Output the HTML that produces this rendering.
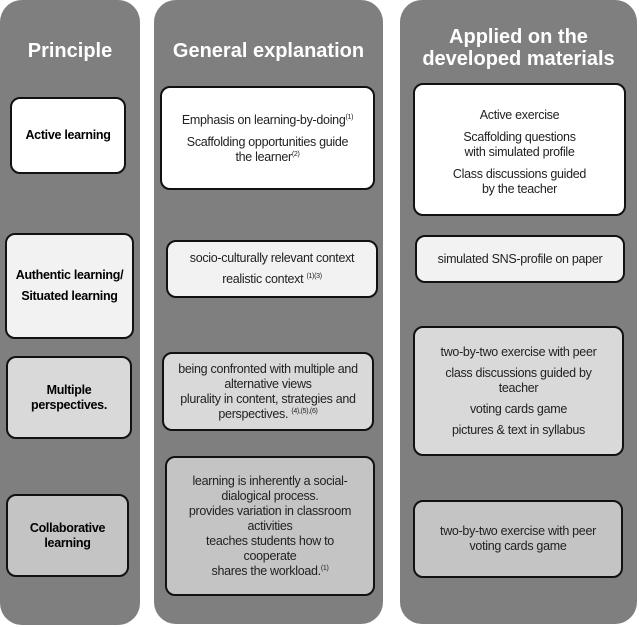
<!DOCTYPE html>
<html><head><meta charset="utf-8"><style>
body{margin:0;width:639px;height:627px;background:#fff;position:relative;overflow:hidden;font-family:"Liberation Sans",Arial,sans-serif;}
.col{position:absolute;background:#7f7f7f;border-radius:22px;}
.h{position:absolute;color:#fff;font-weight:bold;font-size:20px;text-align:center;line-height:22px;}
.b{position:absolute;box-sizing:border-box;border:2.5px solid #111;border-radius:10px;display:flex;align-items:center;justify-content:center;text-align:center;font-size:12.5px;color:#222;line-height:15px;letter-spacing:-0.3px;}
.b p{margin:3px 0;}
.bold{font-weight:bold;font-size:12.5px;color:#000;}
sup{font-size:7px;line-height:0;vertical-align:5px;}
</style></head><body>
<div class="col" style="left:0;top:0;width:140px;height:625px"></div>
<div class="col" style="left:154px;top:0;width:229px;height:624px"></div>
<div class="col" style="left:400px;top:0;width:237px;height:624px"></div>
<div class="h" style="left:0;top:40px;width:140px">Principle</div>
<div class="h" style="left:154px;top:40px;width:229px">General explanation</div>
<div class="h" style="left:400px;top:26px;width:237px">Applied on the<br>developed materials</div>

<div class="b bold" style="left:10px;top:97px;width:116px;height:77px;background:#fff">Active learning</div>
<div class="b bold" style="left:5px;top:233px;width:129px;height:106px;background:#f2f2f2;line-height:21px">Authentic learning/<br>Situated learning</div>
<div class="b bold" style="left:6px;top:356px;width:126px;height:83px;background:#d9d9d9">Multiple<br>perspectives.</div>
<div class="b bold" style="left:6px;top:494px;width:123px;height:83px;background:#c4c4c4">Collaborative<br>learning</div>

<div class="b" style="left:160px;top:86px;width:215px;height:104px;background:#fff;align-items:flex-start;padding-top:22px"><div><p>Emphasis on learning-by-doing<sup>(1)</sup></p><p style="margin-top:7px">Scaffolding opportunities guide<br>the learner<sup>(2)</sup></p></div></div>
<div class="b" style="left:166px;top:240px;width:212px;height:58px;background:#f2f2f2;line-height:21px"><div>socio-culturally relevant context<br>realistic context <sup>(1)(3)</sup></div></div>
<div class="b" style="left:162px;top:352px;width:212px;height:79px;background:#d9d9d9"><div>being confronted with multiple and<br>alternative views<br>plurality in content, strategies and<br>perspectives. <sup>(4),(5),(6)</sup></div></div>
<div class="b" style="left:165px;top:456px;width:210px;height:140px;background:#c4c4c4"><div>learning is inherently a social-<br>dialogical process.<br>provides variation in classroom<br>activities<br>teaches students how to<br>cooperate<br>shares the workload.<sup>(1)</sup></div></div>

<div class="b" style="left:413px;top:83px;width:213px;height:133px;background:#fff;align-items:flex-start;padding-top:20px"><div><p>Active exercise</p><p style="margin-top:7px">Scaffolding questions<br>with simulated profile</p><p style="margin-top:7px">Class discussions guided<br>by the teacher</p></div></div>
<div class="b" style="left:415px;top:235px;width:210px;height:48px;background:#f2f2f2">simulated SNS-profile on paper</div>
<div class="b" style="left:413px;top:326px;width:211px;height:130px;background:#d9d9d9"><div><p>two-by-two exercise with peer</p><p style="margin-top:6px">class discussions guided by<br>teacher</p><p style="margin-top:6px">voting cards game</p><p style="margin-top:6px">pictures &amp; text in syllabus</p></div></div>
<div class="b" style="left:413px;top:500px;width:210px;height:78px;background:#c4c4c4"><div>two-by-two exercise with peer<br>voting cards game</div></div>
</body></html>
